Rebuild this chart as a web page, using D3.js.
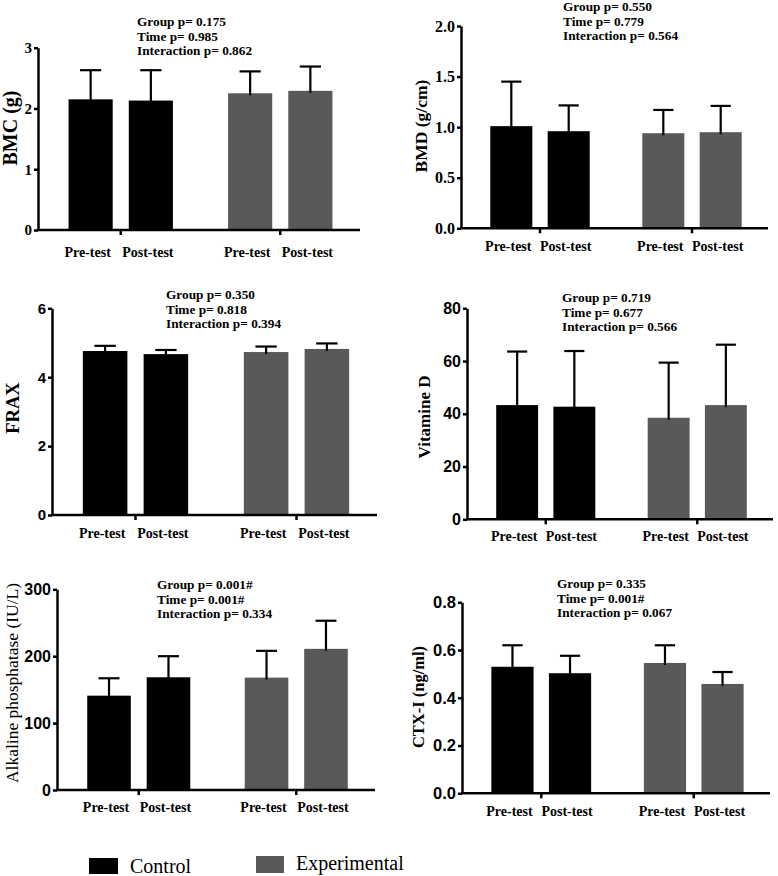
<!DOCTYPE html>
<html><head><meta charset="utf-8">
<script src="https://cdn.jsdelivr.net/npm/d3@7"></script>
<style>
html,body{margin:0;padding:0;background:#fff;}
svg{display:block;}
</style></head>
<body>
<svg id="chart" width="778" height="876"></svg>
<script>
// ---------- data ----------
const groupNames = ["Control", "Experimental"];
const timeLabels = ["Pre-test", "Post-test"];
const barGroup = ["Control", "Control", "Experimental", "Experimental"];
const barTime = ["Pre-test", "Post-test", "Pre-test", "Post-test"];

const bmcMean = [2.15, 2.13, 2.25, 2.29];
const bmcSD = [0.48, 0.50, 0.36, 0.40];
const bmcTicks = [0, 1, 2, 3];
const bmcStats = ["Group p= 0.175", "Time p= 0.985", "Interaction p= 0.862"];

const bmdMean = [1.01, 0.96, 0.94, 0.95];
const bmdSD = [0.44, 0.255, 0.23, 0.26];
const bmdTicks = [0, 0.5, 1.0, 1.5, 2.0];
const bmdStats = ["Group p= 0.550", "Time p= 0.779", "Interaction p= 0.564"];

const fraxMean = [4.76, 4.67, 4.73, 4.82];
const fraxSD = [0.15, 0.12, 0.16, 0.16];
const fraxTicks = [0, 2, 4, 6];
const fraxStats = ["Group p= 0.350", "Time p= 0.818", "Interaction p= 0.394"];

const vitdMean = [43.3, 42.7, 38.5, 43.3];
const vitdSD = [20.3, 21.1, 20.9, 22.9];
const vitdTicks = [0, 20, 40, 60, 80];
const vitdStats = ["Group p= 0.719", "Time p= 0.677", "Interaction p= 0.566"];

const alpMean = [141, 168.5, 168, 211];
const alpSD = [26, 31.5, 40, 42];
const alpTicks = [0, 100, 200, 300];
const alpStats = ["Group p= 0.001#", "Time p= 0.001#", "Interaction p= 0.334"];

const ctxMean = [0.530, 0.503, 0.546, 0.458];
const ctxSD = [0.090, 0.073, 0.074, 0.050];
const ctxTicks = [0, 0.2, 0.4, 0.6, 0.8];
const ctxStats = ["Group p= 0.335", "Time p= 0.001#", "Interaction p= 0.067"];

const yLabels = ["BMC (g)", "BMD (g/cm)", "FRAX", "Vitamine D", "Alkaline phosphatase (IU/L)", "CTX-I (ng/ml)"];

// ---------- layout / style ----------
const SERIF = "'Liberation Serif','Times New Roman',serif";
const SANS = "'Liberation Sans',Arial,sans-serif";
const colors = {"Control": "#000000", "Experimental": "#595959"};

const panels = [
  {label: yLabels[0], mean: bmcMean, sd: bmcSD, ticks: bmcTicks, fmt: d3.format("d"), stats: bmcStats,
   left: 38, top: 47.7, bottom: 230, right: 360, lx: 17, ly: 128, lsize: 20, lweight: "bold",
   tfont: SERIF, tsize: 15, sx: 137, sy: 26, xdy: 27},
  {label: yLabels[1], mean: bmdMean, sd: bmdSD, ticks: bmdTicks, fmt: d3.format(".1f"), stats: bmdStats,
   left: 461, top: 26, bottom: 228.3, right: 768, lx: 427, ly: 126, lsize: 17.5, lweight: "bold",
   tfont: SERIF, tsize: 16, sx: 563, sy: 11, xdy: 23},
  {label: yLabels[2], mean: fraxMean, sd: fraxSD, ticks: fraxTicks, fmt: d3.format("d"), stats: fraxStats,
   left: 52, top: 308.3, bottom: 515, right: 377, lx: 18.5, ly: 408, lsize: 18.5, lweight: "bold",
   tfont: SANS, tsize: 15, sx: 166, sy: 299, xdy: 23},
  {label: yLabels[3], mean: vitdMean, sd: vitdSD, ticks: vitdTicks, fmt: d3.format("d"), stats: vitdStats,
   left: 467, top: 308.3, bottom: 519.3, right: 773, lx: 429.5, ly: 417, lsize: 17, lweight: "bold",
   tfont: SANS, tsize: 16, sx: 562, sy: 302, xdy: 22},
  {label: yLabels[4], mean: alpMean, sd: alpSD, ticks: alpTicks, fmt: d3.format("d"), stats: alpStats,
   left: 57, top: 589.3, bottom: 790, right: 375, lx: 17.5, ly: 683, lsize: 17.5, lweight: "normal",
   tfont: SANS, tsize: 16, sx: 157, sy: 589, xdy: 22},
  {label: yLabels[5], mean: ctxMean, sd: ctxSD, ticks: ctxTicks, fmt: d3.format(".1f"), stats: ctxStats,
   left: 462, top: 602.3, bottom: 793.3, right: 770, lx: 423.5, ly: 697, lsize: 16.5, lweight: "bold",
   tfont: SANS, tsize: 16.5, sx: 557, sy: 588, xdy: 23}
];

const svg = d3.select("#chart");

panels.forEach(p => {
  const g = svg.append("g");
  const y = d3.scaleLinear().domain([0, d3.max(p.ticks)]).range([p.bottom, p.top]);
  const gx = d3.scaleBand().domain(groupNames).range([p.left + 3, p.right]);
  const tx = d3.scaleBand().domain(timeLabels).range([0, gx.bandwidth()])
    .paddingInner(0.267).paddingOuter(0.458);
  const bw = tx.bandwidth();
  const bars = p.mean.map((m, i) => ({m: m, sd: p.sd[i], grp: barGroup[i], t: barTime[i]}));
  const bx = d => gx(d.grp) + tx(d.t);

  // bars
  g.selectAll("rect.bar").data(bars).join("rect")
    .attr("class", "bar")
    .attr("x", bx).attr("width", bw)
    .attr("y", d => y(d.m)).attr("height", d => y(0) - y(d.m))
    .attr("fill", d => colors[d.grp]);

  // error bars
  g.selectAll("line.err").data(bars).join("line")
    .attr("x1", d => bx(d) + bw / 2).attr("x2", d => bx(d) + bw / 2)
    .attr("y1", d => y(d.m) + 2).attr("y2", d => y(d.m + d.sd))
    .attr("stroke", "#000").attr("stroke-width", 2.2);
  g.selectAll("line.cap").data(bars).join("line")
    .attr("x1", d => bx(d) + bw / 2 - bw * 0.24).attr("x2", d => bx(d) + bw / 2 + bw * 0.24)
    .attr("y1", d => y(d.m + d.sd)).attr("y2", d => y(d.m + d.sd))
    .attr("stroke", "#000").attr("stroke-width", 2.2);

  // y axis
  const ya = g.append("g").attr("transform", `translate(${p.left},0)`)
    .call(d3.axisLeft(y).tickValues(p.ticks).tickFormat(p.fmt).tickSize(4).tickSizeOuter(0).tickPadding(2));
  ya.select(".domain").attr("stroke", "#000").attr("stroke-width", 2.5);
  ya.selectAll(".tick line").attr("stroke", "#000").attr("stroke-width", 2.5);
  ya.selectAll(".tick text").style("font-family", p.tfont).style("font-weight", "bold")
    .style("font-size", p.tsize + "px").attr("fill", "#000");

  // x axis
  g.append("line").attr("x1", p.left - 1).attr("x2", p.right)
    .attr("y1", p.bottom).attr("y2", p.bottom)
    .attr("stroke", "#000").attr("stroke-width", 2.5);
  const xa = g.append("g").attr("transform", `translate(0,${p.bottom})`)
    .call(d3.axisBottom(gx).tickSize(5).tickFormat(""));
  xa.select(".domain").remove();
  xa.selectAll(".tick line").attr("stroke", "#000").attr("stroke-width", 2.5);

  // bar category labels
  g.selectAll("text.cat").data(bars).join("text")
    .attr("x", d => bx(d) + bw / 2 - 3).attr("y", p.bottom + p.xdy)
    .attr("text-anchor", "middle")
    .style("font-family", SERIF).style("font-weight", "bold").style("font-size", "14px")
    .text(d => d.t);

  // y label
  g.append("text")
    .attr("transform", `translate(${p.lx},${p.ly}) rotate(-90)`)
    .attr("text-anchor", "middle")
    .style("font-family", SERIF).style("font-weight", p.lweight).style("font-size", p.lsize + "px")
    .text(p.label);

  // stats
  g.selectAll("text.stat").data(p.stats).join("text")
    .attr("x", p.sx).attr("y", (d, i) => p.sy + i * 14.6)
    .style("font-family", SERIF).style("font-weight", "bold").style("font-size", "13.3px")
    .text(d => d);
});

// legend
const legend = [
  {name: groupNames[0], rx: 89, ry: 858, rw: 29, rh: 16, tx: 130, ty: 873},
  {name: groupNames[1], rx: 256, ry: 856, rw: 28, rh: 17, tx: 296, ty: 870}
];
const lg = svg.append("g");
lg.selectAll("rect").data(legend).join("rect")
  .attr("x", d => d.rx).attr("y", d => d.ry).attr("width", d => d.rw).attr("height", d => d.rh)
  .attr("fill", d => colors[d.name]);
lg.selectAll("text").data(legend).join("text")
  .attr("x", d => d.tx).attr("y", d => d.ty)
  .style("font-family", SERIF).style("font-size", "20px")
  .text(d => d.name);
</script>
</body></html>
